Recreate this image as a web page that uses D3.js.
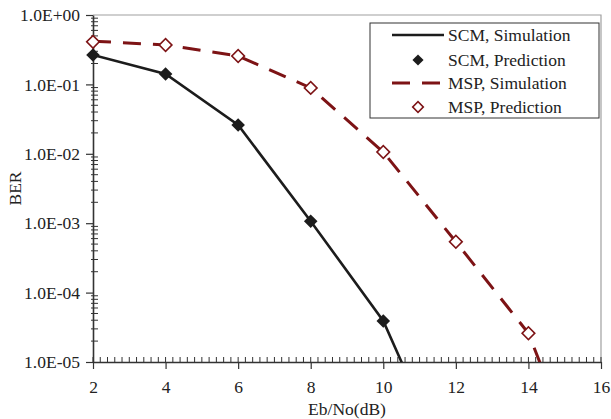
<!DOCTYPE html>
<html>
<head>
<meta charset="utf-8">
<script src="https://cdn.jsdelivr.net/npm/d3@7"></script>
<style>
  body { margin: 0; background: #fff; }
  text { font-family: "Liberation Serif", "Times New Roman", serif; fill: #222; }
</style>
</head>
<body>
<div id="chart"></div>
<script>
// Eb/No (dB)
var snrPred = [2, 4, 6, 8, 10, 12, 14];
var scmPred = [0.265, 0.141, 0.026, 1.07e-3, 3.9e-5];
var scmSimX = [2, 4, 6, 8, 10, 11];
var scmSim = [0.265, 0.141, 0.026, 1.07e-3, 3.9e-5, 2.6e-6];
var mspPred = [0.41, 0.37, 0.257, 0.089, 0.0106, 5.4e-4, 2.6e-5];
var mspSimX = [2, 4, 6, 8, 10, 12, 14, 15];
var mspSim = [0.42, 0.37, 0.257, 0.089, 0.0106, 5.4e-4, 2.6e-5, 1.2e-6];

var xTicks = [2, 4, 6, 8, 10, 12, 14, 16];
var yTicks = [1, 1e-1, 1e-2, 1e-3, 1e-4, 1e-5];
var yTickLabels = ["1.0E+00", "1.0E-01", "1.0E-02", "1.0E-03", "1.0E-04", "1.0E-05"];
var legendLabels = ["SCM, Simulation", "SCM, Prediction", "MSP, Simulation", "MSP, Prediction"];

var red = "#7d1315";
var black = "#1c1c1c";
var fontSize = "17.5px";

var W = 611, H = 419;
var margin = {top: 15, right: 10, bottom: 57, left: 93};
var width = W - margin.left - margin.right;
var height = H - margin.top - margin.bottom;

var x = d3.scaleLinear().domain([2, 16]).range([0, width]);
var y = d3.scaleLog().domain([1e-5, 1]).range([height, 0]);

var svg = d3.select("#chart").append("svg")
  .attr("width", W)
  .attr("height", H);

var g = svg.append("g")
  .attr("transform", "translate(" + margin.left + "," + margin.top + ")");

svg.append("defs").append("clipPath").attr("id", "clip")
  .append("rect").attr("width", width).attr("height", height);

// frame (top and right are light gray)
g.append("path")
  .attr("d", "M0,0H" + width + "V" + height)
  .attr("fill", "none")
  .attr("stroke", "#a0a0a0")
  .attr("stroke-width", 1.2);

// x minor ticks (inside)
var xMinor = d3.range(2, 16.001, 0.2);
g.append("g").selectAll("line")
  .data(xMinor)
  .enter().append("line")
  .attr("x1", function(d) { return x(d); })
  .attr("x2", function(d) { return x(d); })
  .attr("y1", height)
  .attr("y2", height - 5)
  .attr("stroke", "#333")
  .attr("stroke-width", 1);

// y minor ticks (inside)
var yMinor = [];
for (var e = -5; e < 0; e++) {
  for (var m = 2; m <= 9; m++) yMinor.push(m * Math.pow(10, e));
}
g.append("g").selectAll("line")
  .data(yMinor)
  .enter().append("line")
  .attr("x1", -2)
  .attr("x2", 5)
  .attr("y1", function(d) { return y(d); })
  .attr("y2", function(d) { return y(d); })
  .attr("stroke", "#333")
  .attr("stroke-width", 1);

var xAxis = g.append("g")
  .attr("transform", "translate(0," + height + ")")
  .call(d3.axisBottom(x).tickValues(xTicks).tickSize(7).tickSizeOuter(0).tickPadding(12));

var yAxis = g.append("g")
  .call(d3.axisLeft(y).tickValues(yTicks).tickSize(7).tickSizeOuter(0).tickPadding(6)
    .tickFormat(function(d, i) { return yTickLabels[i]; }));

[xAxis, yAxis].forEach(function(a) {
  a.select(".domain").attr("stroke", "#333").attr("stroke-width", 1.6);
  a.selectAll(".tick line").attr("stroke", "#333").attr("stroke-width", 1.2);
  a.selectAll(".tick text")
    .style("font-family", "'Liberation Serif', serif")
    .style("font-size", fontSize)
    .attr("fill", "#222");
});

// axis titles
svg.append("text")
  .attr("x", margin.left + width / 2)
  .attr("y", 415)
  .attr("text-anchor", "middle")
  .style("font-size", fontSize)
  .text("Eb/No(dB)");

svg.append("text")
  .attr("transform", "translate(21," + (margin.top + height / 2) + ") rotate(-90)")
  .attr("text-anchor", "middle")
  .style("font-size", fontSize)
  .text("BER");

var plot = g.append("g").attr("clip-path", "url(#clip)");

var line = d3.line()
  .x(function(d) { return x(d[0]); })
  .y(function(d) { return y(d[1]); });

plot.append("path")
  .datum(d3.zip(scmSimX, scmSim))
  .attr("d", line)
  .attr("fill", "none")
  .attr("stroke", black)
  .attr("stroke-width", 2.6);

plot.append("path")
  .datum(d3.zip(mspSimX, mspSim))
  .attr("d", line)
  .attr("fill", "none")
  .attr("stroke", red)
  .attr("stroke-width", 3)
  .attr("stroke-dasharray", "18,12");

var diamond = d3.symbol().type(d3.symbolSquare).size(92);
var hollow = d3.symbol().type(d3.symbolSquare).size(80);

g.append("g").selectAll("path")
  .data(d3.zip(snrPred, scmPred))
  .enter().append("path")
  .attr("d", diamond)
  .attr("transform", function(d) { return "translate(" + x(d[0]) + "," + y(d[1]) + ") rotate(45)"; })
  .attr("fill", black);

g.append("g").selectAll("path")
  .data(d3.zip(snrPred, mspPred))
  .enter().append("path")
  .attr("d", hollow)
  .attr("transform", function(d) { return "translate(" + x(d[0]) + "," + y(d[1]) + ") rotate(45)"; })
  .attr("fill", "#fff")
  .attr("stroke", red)
  .attr("stroke-width", 1.6);

// legend
var leg = svg.append("g").attr("transform", "translate(370,23)");
leg.append("rect")
  .attr("width", 229)
  .attr("height", 95)
  .attr("fill", "#fff")
  .attr("stroke", "#333")
  .attr("stroke-width", 1);

var rowY = [12, 37, 60, 84];
leg.selectAll("text.lab")
  .data(legendLabels)
  .enter().append("text")
  .attr("class", "lab")
  .attr("x", 78)
  .attr("y", function(d, i) { return rowY[i] + 6; })
  .style("font-size", fontSize)
  .text(function(d) { return d; });

leg.append("line")
  .attr("x1", 22).attr("x2", 74)
  .attr("y1", rowY[0]).attr("y2", rowY[0])
  .attr("stroke", black).attr("stroke-width", 2.6);

leg.append("path")
  .attr("d", d3.symbol().type(d3.symbolSquare).size(62))
  .attr("transform", "translate(48," + rowY[1] + ") rotate(45)")
  .attr("fill", black);

leg.append("line")
  .attr("x1", 22).attr("x2", 74)
  .attr("y1", rowY[2]).attr("y2", rowY[2])
  .attr("stroke", red).attr("stroke-width", 3)
  .attr("stroke-dasharray", "18,12");

leg.append("path")
  .attr("d", d3.symbol().type(d3.symbolSquare).size(56))
  .attr("transform", "translate(48," + rowY[3] + ") rotate(45)")
  .attr("fill", "#fff")
  .attr("stroke", red)
  .attr("stroke-width", 1.6);
</script>
</body>
</html>
